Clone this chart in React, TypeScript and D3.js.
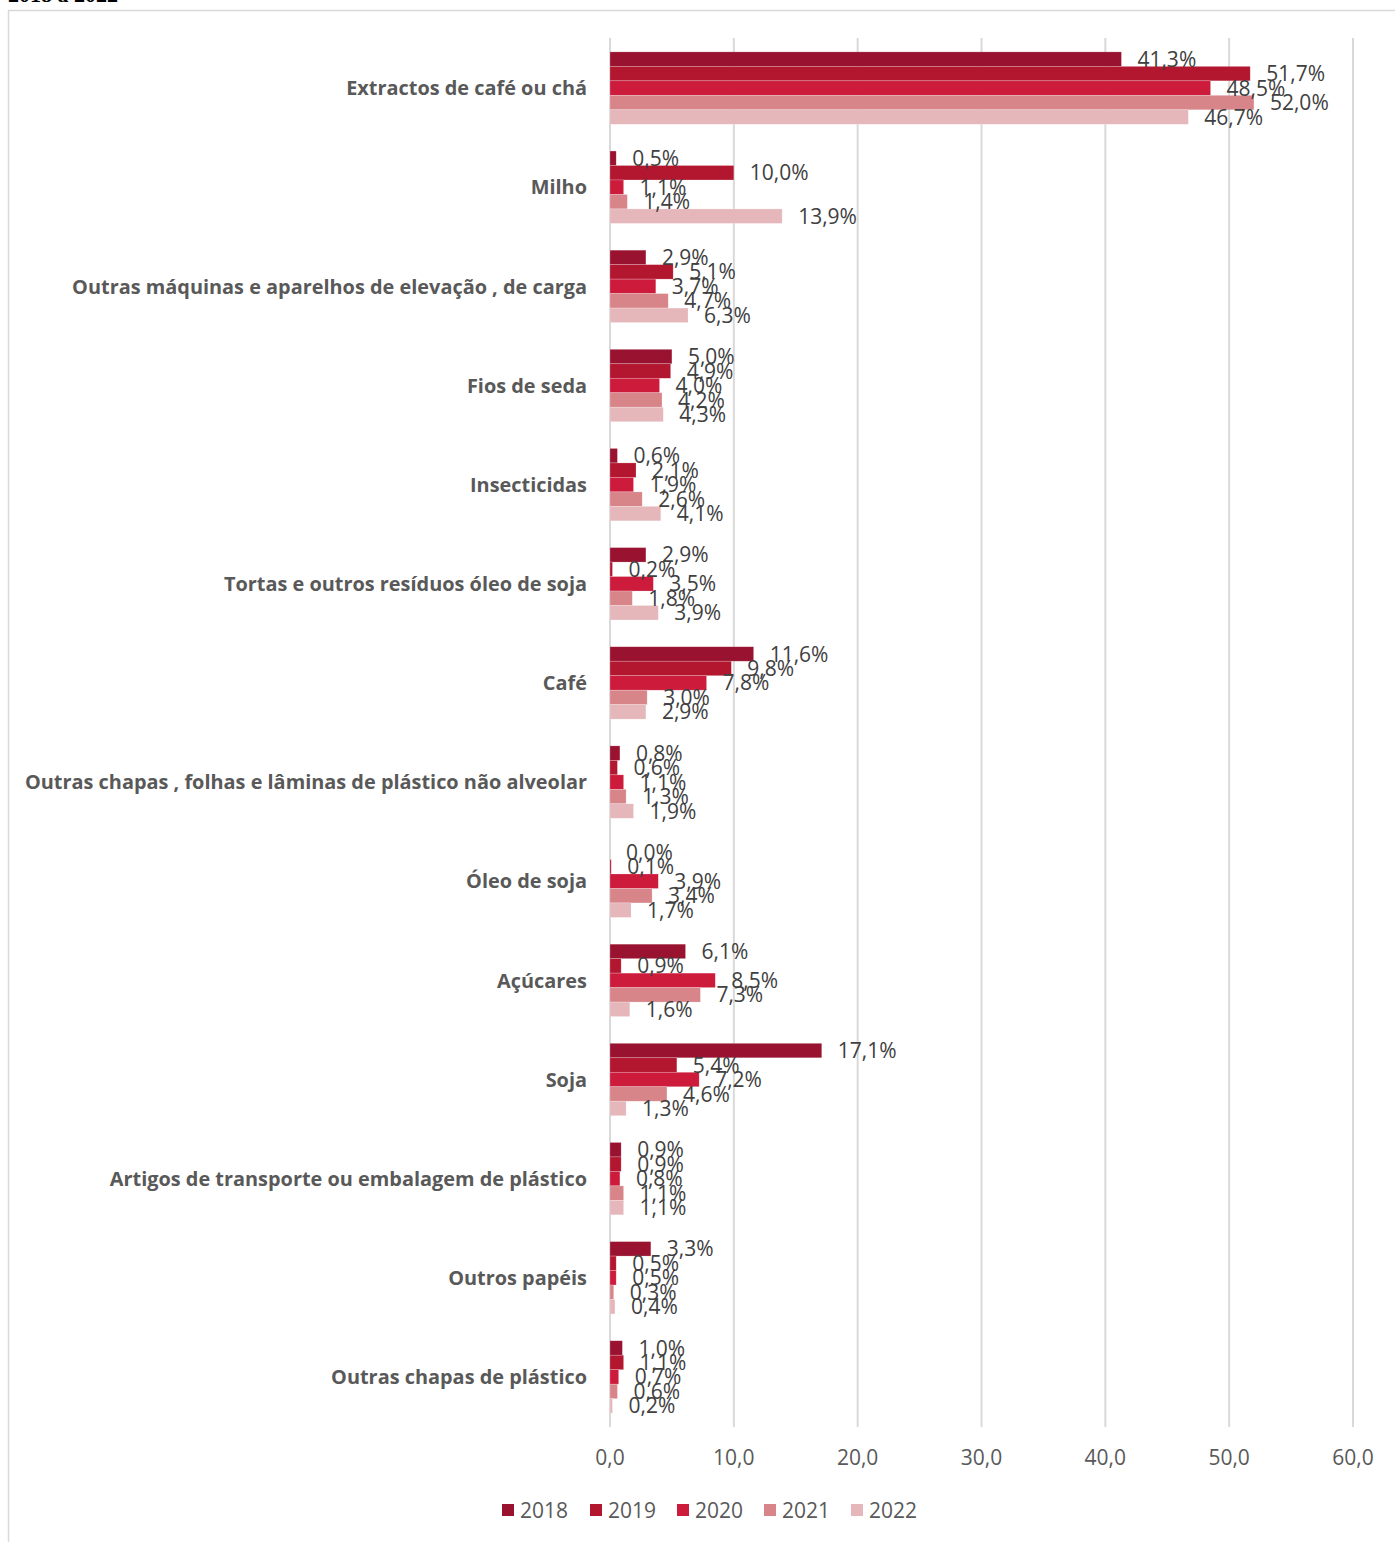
import React from "react";
import * as d3 from "d3";

const categories = [
  "Extractos de café ou chá",
  "Milho",
  "Outras máquinas e aparelhos de elevação , de carga",
  "Fios de seda",
  "Insecticidas",
  "Tortas e outros resíduos óleo de soja",
  "Café",
  "Outras chapas , folhas e lâminas de plástico não alveolar",
  "Óleo de soja",
  "Açúcares",
  "Soja",
  "Artigos de transporte ou embalagem de plástico",
  "Outros papéis",
  "Outras chapas de plástico",
];
const years = ["2018", "2019", "2020", "2021", "2022"];
const v2018 = [41.3, 0.5, 2.9, 5.0, 0.6, 2.9, 11.6, 0.8, 0.0, 6.1, 17.1, 0.9, 3.3, 1.0];
const v2019 = [51.7, 10.0, 5.1, 4.9, 2.1, 0.2, 9.8, 0.6, 0.1, 0.9, 5.4, 0.9, 0.5, 1.1];
const v2020 = [48.5, 1.1, 3.7, 4.0, 1.9, 3.5, 7.8, 1.1, 3.9, 8.5, 7.2, 0.8, 0.5, 0.7];
const v2021 = [52.0, 1.4, 4.7, 4.2, 2.6, 1.8, 3.0, 1.3, 3.4, 7.3, 4.6, 1.1, 0.3, 0.6];
const v2022 = [46.7, 13.9, 6.3, 4.3, 4.1, 3.9, 2.9, 1.9, 1.7, 1.6, 1.3, 1.1, 0.4, 0.2];
const series = [v2018, v2019, v2020, v2021, v2022];
const colors = ["#991330", "#B3162F", "#CC1B3B", "#D8858A", "#E5B6BA"];
const xTicks = [0, 10, 20, 30, 40, 50, 60];

const W = 1395;
const H = 1542;
const FONT = "'Open Sans', sans-serif";

export default function App() {
  const x = d3.scaleLinear().domain([0, 60]).range([610, 1353]);
  const y = d3.scaleBand<string>().domain(categories).range([38.5, 1426.5]).paddingInner(0.27).paddingOuter(0.135);
  const inner = d3.scaleBand<string>().domain(years).range([0, y.bandwidth()]);
  const fmt = (v: number) => v.toFixed(1).replace(".", ",");

  const legendX = [502, 590, 677, 764, 851];

  return (
    <svg width={W} height={H} style={{ position: "absolute", left: 0, top: 0, background: "#fff" }}>
      <rect x={8.5} y={10.5} width={W} height={H} fill="#fff" stroke="#d9d9d9" strokeWidth={1.5} />
      <text x={8} y={2} fontFamily="'Liberation Serif', serif" fontWeight="bold" fontSize={22} fill="#000">2018 a 2022</text>
      {xTicks.map((t) => (
        <line key={t} x1={x(t)} x2={x(t)} y1={38} y2={1427} stroke="#d9d9d9" strokeWidth={2} />
      ))}
      {categories.map((c, ci) => (
        <g key={c}>
          {series.map((s, si) => (
            <rect
              key={si}
              x={x(0)}
              y={(y(c) as number) + (inner(years[si]) as number)}
              width={x(s[ci]) - x(0)}
              height={inner.bandwidth()}
              fill={colors[si]}
              stroke="#ffffff"
              strokeOpacity={0.35}
              strokeWidth={0.6}
            />
          ))}
          {series.map((s, si) => (
            <text
              key={"l" + si}
              x={x(s[ci]) + 16}
              y={(y(c) as number) + (inner(years[si]) as number) + inner.bandwidth() / 2}
              dy="0.36em"
              fontFamily={FONT}
              fontSize={21}
              fill="#404040"
            >
              {fmt(s[ci]) + "%"}
            </text>
          ))}
          <text
            x={587}
            y={(y(c) as number) + y.bandwidth() / 2}
            dy="0.36em"
            textAnchor="end"
            fontFamily={FONT}
            fontWeight="bold"
            fontSize={19.9}
            fill="#595959"
          >
            {c}
          </text>
        </g>
      ))}
      {xTicks.map((t) => (
        <text key={"t" + t} x={x(t)} y={1457} dy="0.36em" textAnchor="middle" fontFamily={FONT} fontSize={21} fill="#595959">
          {fmt(t)}
        </text>
      ))}
      {years.map((yr, i) => (
        <g key={yr}>
          <rect x={legendX[i]} y={1504} width={12} height={12} fill={colors[i]} />
          <text x={legendX[i] + 18} y={1510} dy="0.36em" fontFamily={FONT} fontSize={21} fill="#595959">{yr}</text>
        </g>
      ))}
    </svg>
  );
}
